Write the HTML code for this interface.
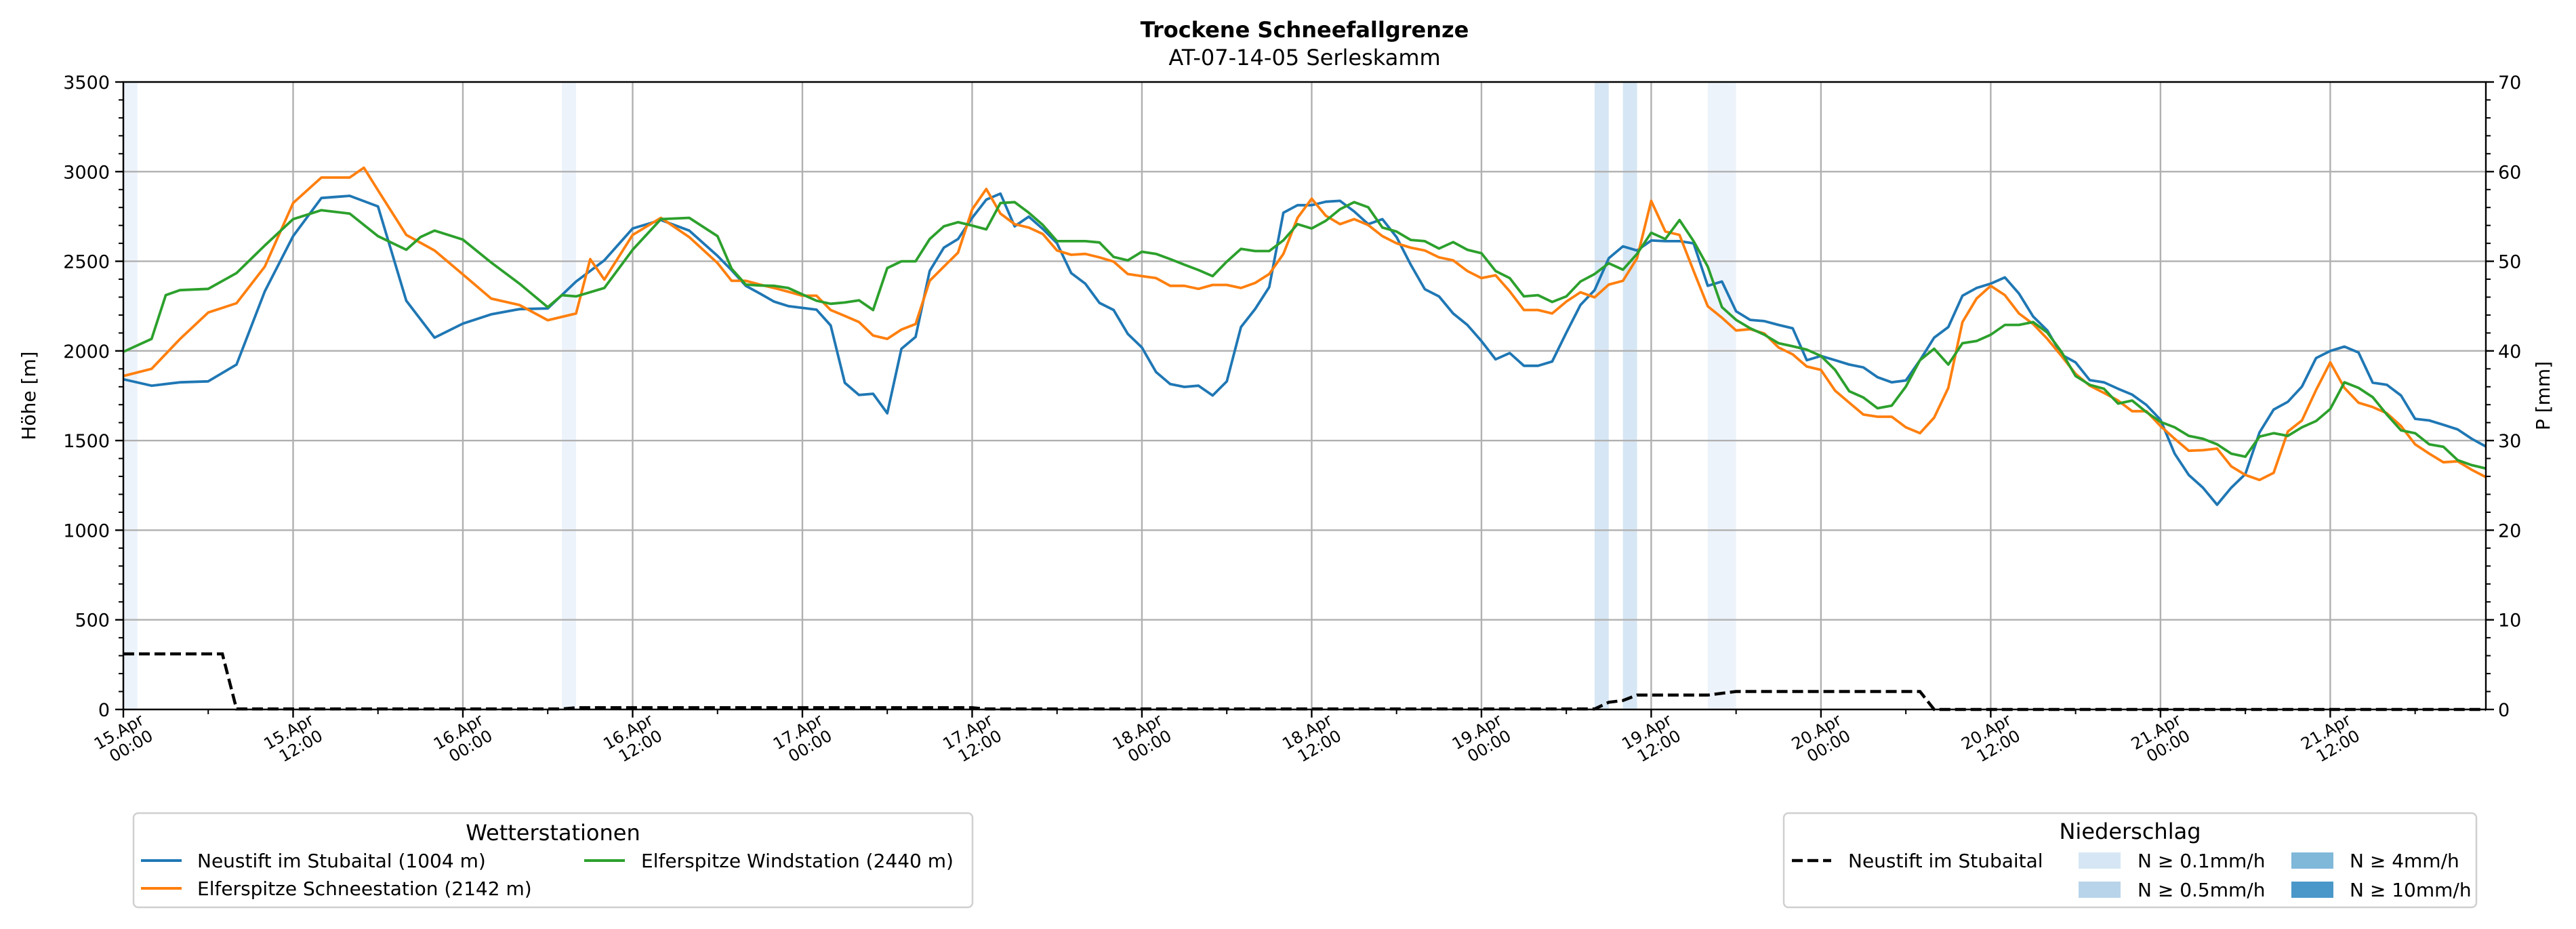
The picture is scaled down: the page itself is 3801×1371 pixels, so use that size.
<!DOCTYPE html>
<html><head><meta charset="utf-8"><title>Trockene Schneefallgrenze</title>
<style>
html,body{margin:0;padding:0;background:#fff;}
svg{display:block;font-family:"DejaVu Sans","Liberation Sans",sans-serif;}
</style></head>
<body>
<svg id="chart" xmlns="http://www.w3.org/2000/svg" width="3801" height="1371" viewBox="0 0 3801 1371">
  <rect width="3801" height="1371" fill="#fff"/>
  <text x="1925" y="55" text-anchor="middle" font-size="32" font-weight="bold">Trockene Schneefallgrenze</text>
  <text x="1925" y="96" text-anchor="middle" font-size="32">AT-07-14-05 Serleskamm</text>
  <g id="bands"></g>
  <g id="grid"></g>
  <g id="series"></g>
  <g id="axes"></g>
  <text transform="translate(52,584) rotate(-90)" text-anchor="middle" font-size="28">Höhe [m]</text>
  <text transform="translate(3762,584) rotate(-90)" text-anchor="middle" font-size="28">P [mm]</text>

  <g>
    <rect x="197" y="1200" width="1238" height="139" rx="7" fill="#fff" stroke="#d0d0d0" stroke-width="2.5"/>
    <text x="816" y="1240" text-anchor="middle" font-size="32">Wetterstationen</text>
    <g>
      <line x1="208" y1="1270" x2="268" y2="1270" stroke="#1f77b4" stroke-width="4"/>
      <text x="291" y="1280" font-size="28">Neustift im Stubaital (1004 m)</text>
    </g>
    <g>
      <line x1="208" y1="1311" x2="268" y2="1311" stroke="#ff7f0e" stroke-width="4"/>
      <text x="291" y="1321" font-size="28">Elferspitze Schneestation (2142 m)</text>
    </g>
    <g>
      <line x1="862" y1="1270" x2="922" y2="1270" stroke="#2ca02c" stroke-width="4"/>
      <text x="946" y="1280" font-size="28">Elferspitze Windstation (2440 m)</text>
    </g>
  </g>

  <g>
    <rect x="2632" y="1200" width="1022" height="139" rx="7" fill="#fff" stroke="#d0d0d0" stroke-width="2.5"/>
    <text x="3143" y="1238" text-anchor="middle" font-size="32">Niederschlag</text>
    <g>
      <line x1="2644" y1="1270" x2="2702" y2="1270" stroke="#000" stroke-width="4.5" stroke-dasharray="16,7"/>
      <text x="2727" y="1280" font-size="28">Neustift im Stubaital</text>
    </g>
    <g>
      <rect x="3067" y="1258" width="62" height="24" fill="#d6e6f4"/>
      <text x="3154" y="1280" font-size="28">N ≥ 0.1mm/h</text>
    </g>
    <g>
      <rect x="3067" y="1301" width="62" height="24" fill="#b8d4ea"/>
      <text x="3154" y="1323" font-size="28">N ≥ 0.5mm/h</text>
    </g>
    <g>
      <rect x="3381" y="1258" width="62" height="24" fill="#80b8da"/>
      <text x="3467" y="1280" font-size="28">N ≥ 4mm/h</text>
    </g>
    <g>
      <rect x="3381" y="1301" width="62" height="24" fill="#4a98c9"/>
      <text x="3467" y="1323" font-size="28">N ≥ 10mm/h</text>
    </g>
  </g>
</svg>
<script>
// ---- data (hours since 15.Apr 00:00) ----
const xTickHours = [0,12,24,36,48,60,72,84,96,108,120,132,144,156];
const xTickDays = ["15.Apr","15.Apr","16.Apr","16.Apr","17.Apr","17.Apr","18.Apr","18.Apr","19.Apr","19.Apr","20.Apr","20.Apr","21.Apr","21.Apr"];
const xTickTimes = ["00:00","12:00","00:00","12:00","00:00","12:00","00:00","12:00","00:00","12:00","00:00","12:00","00:00","12:00"];
const yTicks = [0,500,1000,1500,2000,2500,3000,3500];
const y2Ticks = [0,10,20,30,40,50,60,70];

const blueHours = [0,2,4,6,8,10,12,14,16,18,20,22,24,26,28,30,32,34,36,38,40,42,43,44,45,46,47,48,49,50,51,52,53,54,55,56,57,58,59,60,61,62,63,64,65,66,67,68,69,70,71,72,73,74,75,76,77,78,79,80,81,82,83,84,85,86,87,88,89,90,91,92,93,94,95,96,97,98,99,100,101,102,103,104,105,106,107,108,109,110,111,112,113,114,115,116,117,118,119,120,121,122,123,124,125,126,127,128,129,130,131,132,133,134,135,136,137,138,139,140,141,142,143,144,145,146,147,148,149,150,151,152,153,154,155,156,157,158,159,160,161,162,163,164,165,166,167];
const blueValues = [1842,1806,1825,1830,1924,2332,2640,2853,2865,2806,2280,2074,2152,2204,2233,2237,2387,2505,2683,2730,2671,2530,2450,2363,2320,2275,2250,2240,2230,2142,1822,1754,1761,1652,2012,2078,2446,2576,2624,2742,2844,2877,2695,2749,2680,2600,2434,2375,2268,2228,2095,2019,1882,1815,1799,1806,1751,1830,2133,2233,2356,2771,2813,2813,2832,2837,2778,2707,2735,2635,2481,2344,2304,2209,2145,2055,1953,1988,1917,1917,1941,2102,2256,2339,2517,2583,2560,2616,2612,2612,2600,2363,2387,2221,2173,2166,2145,2126,1948,1972,1948,1924,1908,1853,1825,1835,1948,2074,2133,2308,2351,2375,2410,2320,2192,2114,1979,1936,1837,1825,1789,1756,1699,1616,1427,1308,1237,1142,1237,1313,1545,1673,1716,1801,1960,2000,2024,1991,1823,1811,1751,1621,1612,1588,1562,1510,1467];

const orangeHours = [0,2,4,6,8,10,12,14,16,17,18,20,22,24,26,28,30,32,33,34,36,38,40,42,43,44,45,46,47,48,49,50,51,52,53,54,55,56,57,58,59,60,61,62,63,64,65,66,67,68,69,70,71,72,73,74,75,76,77,78,79,80,81,82,83,84,85,86,87,88,89,90,91,92,93,94,95,96,97,98,99,100,101,102,103,104,105,106,107,108,109,110,111,112,113,114,115,116,117,118,119,120,121,122,123,124,125,126,127,128,129,130,131,132,133,134,135,136,137,138,139,140,141,142,143,144,145,146,147,148,149,150,151,152,153,154,155,156,157,158,159,160,161,162,163,164,165,166,167];
const orangeValues = [1860,1900,2066,2214,2266,2470,2825,2967,2967,3022,2896,2647,2560,2427,2292,2256,2171,2209,2512,2398,2647,2742,2635,2490,2391,2391,2370,2351,2330,2308,2308,2228,2195,2161,2086,2067,2119,2150,2391,2470,2548,2789,2903,2766,2707,2688,2652,2560,2536,2541,2522,2498,2429,2417,2406,2363,2363,2346,2368,2368,2351,2379,2429,2541,2742,2849,2754,2707,2735,2702,2640,2600,2576,2560,2522,2505,2446,2406,2422,2332,2228,2228,2209,2275,2327,2299,2370,2391,2517,2837,2666,2647,2446,2249,2185,2114,2121,2097,2019,1981,1913,1894,1778,1711,1645,1633,1633,1574,1541,1628,1794,2161,2292,2363,2311,2209,2150,2067,1972,1872,1806,1766,1723,1664,1664,1581,1510,1443,1446,1455,1356,1308,1280,1320,1550,1612,1782,1936,1794,1711,1687,1652,1581,1479,1427,1379,1384,1337,1296];

const greenHours = [0,2,3,4,6,8,10,12,14,16,18,20,21,22,24,26,28,30,31,32,34,36,38,40,42,43,44,45,46,47,48,49,50,51,52,53,54,55,56,57,58,59,60,61,62,63,64,65,66,67,68,69,70,71,72,73,74,75,76,77,78,79,80,81,82,83,84,85,86,87,88,89,90,91,92,93,94,95,96,97,98,99,100,101,102,103,104,105,106,107,108,109,110,111,112,113,114,115,116,117,118,119,120,121,122,123,124,125,126,127,128,129,130,131,132,133,134,135,136,137,138,139,140,141,142,143,144,145,146,147,148,149,150,151,152,153,154,155,156,157,158,159,160,161,162,163,164,165,166,167];
const greenValues = [1995,2067,2311,2339,2346,2434,2588,2735,2785,2766,2640,2564,2635,2671,2621,2493,2375,2244,2311,2304,2351,2564,2735,2742,2640,2458,2370,2365,2363,2351,2315,2280,2263,2270,2282,2228,2462,2500,2500,2624,2695,2718,2699,2678,2825,2830,2771,2702,2612,2612,2612,2605,2524,2505,2553,2541,2512,2481,2451,2417,2498,2569,2557,2557,2617,2707,2683,2726,2790,2830,2801,2688,2666,2619,2612,2571,2607,2564,2545,2446,2406,2304,2311,2273,2304,2387,2429,2489,2453,2541,2659,2624,2730,2612,2470,2244,2173,2126,2090,2043,2026,2007,1972,1894,1775,1740,1680,1695,1801,1948,2012,1924,2043,2055,2090,2145,2145,2161,2102,1995,1860,1811,1789,1706,1723,1659,1604,1574,1526,1510,1479,1427,1410,1522,1541,1526,1574,1609,1676,1825,1794,1742,1645,1557,1541,1479,1465,1391,1363,1344];

const precipHours = [0,7,8,31,32,60,61,104,105,106,107,112,114,127,128,167];
const precipValues = [6.2,6.2,0.05,0.05,0.2,0.2,0.05,0.05,0.8,1.0,1.6,1.6,2.0,2.0,0,0];

const bandStart = [0,31,104,106,112];
const bandEnd = [1,32,105,107,114];
const bandLevel = [0,0,1,1,0];

// ---- layout ----
const L=182,R=3668,T=121,B=1047;
const X=h=>L+h*(R-L)/167;
const Y=v=>B-v*(B-T)/3500;
const Y2=p=>B-p*(B-T)/70;
const NS="http://www.w3.org/2000/svg";
function mk(tag,attrs,parent){const e=document.createElementNS(NS,tag);for(const k in attrs)e.setAttribute(k,attrs[k]);parent.appendChild(e);return e;}

const bands=document.getElementById('bands');
const bandColors=["#edf3fb","#d6e6f4"];
bandStart.forEach((s,i)=>{
  const r=mk('rect',{x:X(s),y:T,width:X(bandEnd[i])-X(s),height:B-T,fill:bandColors[bandLevel[i]]},bands);
  
  
});

const grid=document.getElementById('grid');
xTickHours.forEach(h=>{
  const l=mk('line',{x1:X(h),x2:X(h),y1:T,y2:B,stroke:"#b0b0b0","stroke-width":2.4},grid);
  
  
});
yTicks.forEach(v=>{
  const l=mk('line',{x1:L,x2:R,y1:Y(v),y2:Y(v),stroke:"#b0b0b0","stroke-width":2.4},grid);
  
  
});

const series=document.getElementById('series');
function line(hours,vals,color,name){
  const d=hours.map((h,i)=>(i?'L':'M')+X(h).toFixed(1)+' '+Y(vals[i]).toFixed(1)).join(' ');
  const p=mk('path',{d:d,fill:"none",stroke:color,"stroke-width":3.8,"stroke-linejoin":"round"},series);
  
  
}
line(blueHours,blueValues,"#1f77b4",'line-neustift');
line(orangeHours,orangeValues,"#ff7f0e",'line-schneestation');
line(greenHours,greenValues,"#2ca02c",'line-windstation');
const pd=precipHours.map((h,i)=>(i?'L':'M')+X(h).toFixed(1)+' '+Y2(precipValues[i]).toFixed(1)).join(' ');
const pp=mk('path',{d:pd,fill:"none",stroke:"#000","stroke-width":4.5,"stroke-dasharray":"16,7"},series);



const axes=document.getElementById('axes');
const frame=mk('rect',{x:L,y:T,width:R-L,height:B-T,fill:"none",stroke:"#000","stroke-width":2.4},axes);


yTicks.forEach(v=>{
  mk('line',{x1:L-12,x2:L,y1:Y(v),y2:Y(v),stroke:"#000","stroke-width":2.4},axes);
  const t=mk('text',{x:L-20,y:Y(v)+10,"text-anchor":"end","font-size":27},axes);
  t.textContent=v;
  
  
});
for(let v=0;v<=3500;v+=100){ if(v%500) mk('line',{x1:L-7,x2:L,y1:Y(v),y2:Y(v),stroke:"#000","stroke-width":2},axes); }
y2Ticks.forEach(p=>{
  mk('line',{x1:R,x2:R+12,y1:Y2(p),y2:Y2(p),stroke:"#000","stroke-width":2.4},axes);
  const t=mk('text',{x:R+18,y:Y2(p)+10,"font-size":27},axes);
  t.textContent=p;
  
  
});
for(let p=0;p<=70;p+=2){ if(p%10) mk('line',{x1:R,x2:R+7,y1:Y2(p),y2:Y2(p),stroke:"#000","stroke-width":2},axes); }
for(let h=6;h<167;h+=12) mk('line',{x1:X(h),x2:X(h),y1:B,y2:B+7,stroke:"#000","stroke-width":2},axes);
xTickHours.forEach((h,i)=>{
  mk('line',{x1:X(h),x2:X(h),y1:B,y2:B+12,stroke:"#000","stroke-width":2.4},axes);
  const t=mk('text',{transform:`translate(${X(h)+22},1050) rotate(-30)`,"text-anchor":"end","font-size":24},axes);
  const a=document.createElementNS(NS,'tspan');a.setAttribute('x',0);a.setAttribute('y',20);a.textContent=xTickDays[i];t.appendChild(a);
  const b=document.createElementNS(NS,'tspan');b.setAttribute('x',0);b.setAttribute('y',47);b.textContent=xTickTimes[i];t.appendChild(b);
  
  
});
</script>
</body></html>
